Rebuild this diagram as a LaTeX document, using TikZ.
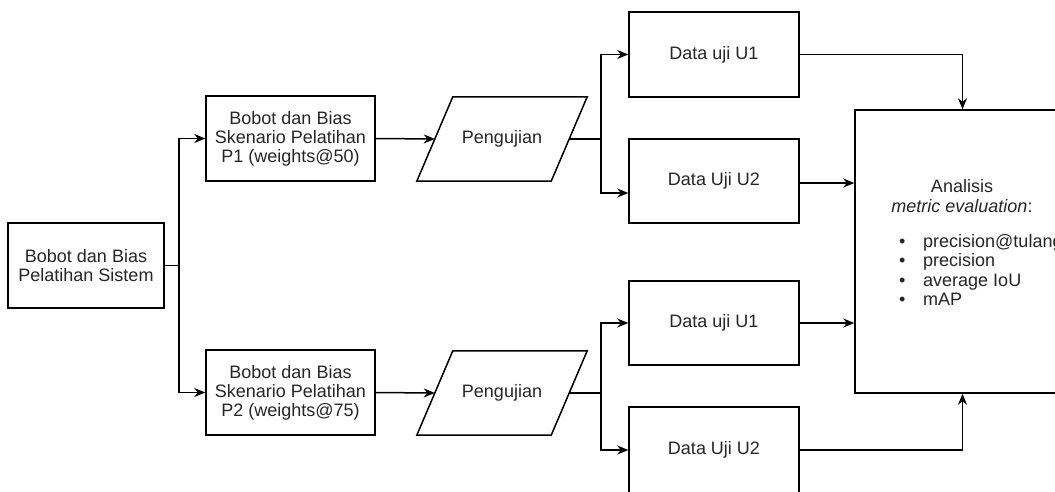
\documentclass[tikz,border=0pt]{standalone}
\usepackage{fontspec}
\setmainfont{Liberation Sans}
\usetikzlibrary{arrows.meta}
\begin{document}
\begin{tikzpicture}[x=1pt,y=-1pt,
  box/.style={draw=black, line width=1.5pt, rectangle, minimum width=#1, minimum height=85pt, inner sep=0pt, align=center, text=black!85, font=\fontsize{18}{19}\selectfont},
  box/.default=170pt,
  pgbox/.style={rectangle, minimum width=170pt, minimum height=84pt, inner sep=0pt, text=black!85, font=\fontsize{18}{19}\selectfont},
  txt/.style={inner sep=0pt, text=black!85, font=\fontsize{18}{19.5}\selectfont},
  arr/.style={draw=black, line width=1.5pt, -{Stealth[length=11pt,width=9pt,inset=3.5pt]}},
  ln/.style={draw=black, line width=1.5pt}]
\useasboundingbox (0,0) rectangle (1055,491);
\fill[white] (0,0) rectangle (1055,491);

\node[box=156pt] (sys) at (86,265.5) {Bobot dan Bias\\Pelatihan Sistem};
\node[box=169pt] (p1) at (290.5,138.5) {Bobot dan Bias\\Skenario Pelatihan\\P1 (weights@50)};
\node[box=169pt] (p2) at (290.5,392.5) {Bobot dan Bias\\Skenario Pelatihan\\P2 (weights@75)};

\node[pgbox] (pg1) at (502,139) {Pengujian};
\node[pgbox] (pg2) at (502,393) {Pengujian};
\foreach \p in {pg1,pg2}{
  \draw[ln] (\p.south west) -- ([xshift=-36pt]\p.south east) -- (\p.north east) -- ([xshift=36pt]\p.north west) -- cycle;
}

\node[box] (u11) at (714,54.5) {Data uji U1};
\node[box, minimum height=84pt] (u12) at (714,181) {Data Uji U2};
\node[box, minimum height=84pt] (u21) at (714,323) {Data uji U1};
\node[box, minimum height=86pt] (u22) at (714,450) {Data Uji U2};

\node[draw=black, line width=1.5pt, rectangle, minimum width=215pt, minimum height=283pt, inner sep=0pt] (ana) at (962.5,251.5) {};
\node[txt, align=center] (anat) at (962,196) {Analisis\\\textit{metric evaluation}:};
\node[txt, align=left, anchor=north west] (anal) at (899,234) {%
\makebox[24pt][l]{\textbullet}precision@tulang\\
\makebox[24pt][l]{\textbullet}precision\\
\makebox[24pt][l]{\textbullet}average IoU\\
\makebox[24pt][l]{\textbullet}mAP};

% connectors
\draw[arr] (sys.east) -- ++(14,0) |- (p1.west);
\draw[arr] (sys.east) -- ++(14,0) |- (p2.west);
\draw[arr] (p1.east) -- ([xshift=18pt]pg1.west);
\draw[arr] (p2.east) -- ([xshift=18pt]pg2.west);
\draw[arr] ([xshift=-18pt]pg1.east) -- ++(32,0) |- (u11.west);
\draw[arr] ([xshift=-18pt]pg1.east) -- ++(32,0) |- ([yshift=-12pt]u12.west);
\draw[arr] ([xshift=-18pt]pg2.east) -- ++(32,0) |- (u21.west);
\draw[arr] ([xshift=-18pt]pg2.east) -- ++(32,0) |- (u22.west);
\draw[arr] (u11.east) -| (ana.north);
\draw[arr] ([yshift=-2pt]u12.east) -- ([yshift=-2pt]u12.east -| ana.west);
\draw[arr] (u21.east) -- (u21.east -| ana.west);
\draw[arr] (u22.east) -| (ana.south);
\end{tikzpicture}
\end{document}
